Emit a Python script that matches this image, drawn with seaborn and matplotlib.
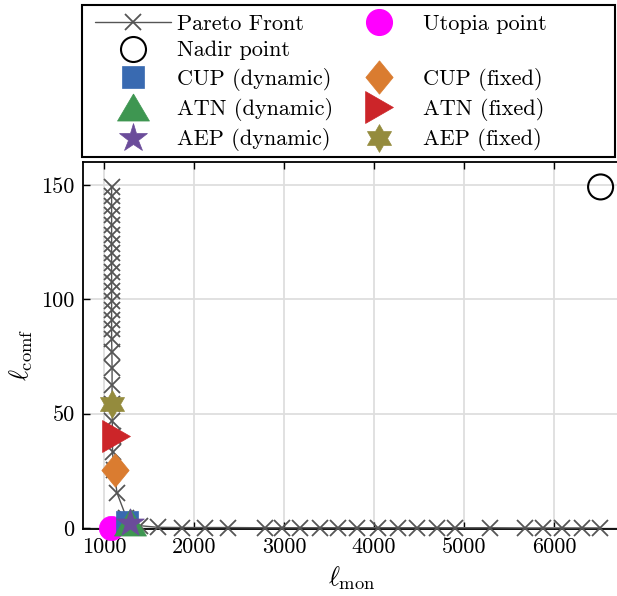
import numpy as np
import pandas as pd
import seaborn as sns
import matplotlib
matplotlib.use("Agg")
import matplotlib.pyplot as plt
from matplotlib.lines import Line2D
from matplotlib.patches import Rectangle

# ---- data -----------------------------------------------------------------
pareto_mon = [1085, 1085, 1085, 1085, 1085, 1085, 1085, 1085, 1085, 1085,
              1085, 1085, 1085, 1085, 1085, 1085, 1085, 1088, 1090, 1090,
              1090, 1092, 1095, 1095, 1110, 1145, 1250, 1400, 1600, 1867,
              2122, 2378, 2789, 2978, 3178, 3400, 3600, 3811, 4044, 4267,
              4478, 4700, 4900, 5289, 5678, 5878, 6089, 6311, 6511]
pareto_comf = [149.1, 145.0, 140.8, 136.7, 132.5, 128.3, 124.2, 120.0, 115.9, 111.7,
               107.6, 103.4, 99.3, 95.1, 91.0, 86.8, 82.6, 77.0, 70.0, 62.5,
               54.2, 46.9, 40.2, 33.4, 25.4, 15.3, 4.5, 1.0, 0.3, 0.2,
               0.2, 0.2, 0.1, 0.1, 0.1, 0.1, 0.1, 0.1, 0.1, 0.1,
               0.1, 0.1, 0.1, 0.1, 0.0, 0.0, 0.0, 0.0, 0.0]

utopia = (1075, 0.0)
nadir = (6518, 149.1)

method_names = ["CUP (dynamic)", "CUP (fixed)", "ATN (dynamic)",
                "ATN (fixed)", "AEP (dynamic)", "AEP (fixed)"]
method_mon = [1260, 1120, 1290, 1135, 1290, 1085]
method_comf = [2.6, 25.4, 2.8, 40.2, 2.0, 54.2]

x_ticks = [1000, 2000, 3000, 4000, 5000, 6000]
y_ticks = [0, 50, 100, 150]

# ---- style ----------------------------------------------------------------
sns.set_theme(style="whitegrid")
plt.rcParams.update({
    "font.family": "serif",
    "font.serif": ["cmr10"],
    "mathtext.fontset": "cm",
    "axes.formatter.use_mathtext": True,
    "axes.unicode_minus": False,
})

# custom marker shapes
tri_up = [(0, 1), (-1.18, -1), (1.18, -1), (0, 1)]
tri_right = [(1, 0), (-1, 1.15), (-1, -1.15), (1, 0)]
diamond = [(0, 1), (0.82, 0), (0, -1), (-0.82, 0), (0, 1)]
ang_out = np.deg2rad(90 + 60 * np.arange(6))
ang_in = ang_out + np.deg2rad(30)
r_in = 1 / np.sqrt(3)
hexagram = []
for ao, ai in zip(ang_out, ang_in):
    hexagram.append((np.cos(ao), np.sin(ao)))
    hexagram.append((r_in * np.cos(ai), r_in * np.sin(ai)))
hexagram.append(hexagram[0])

palette = {
    "CUP (dynamic)": ("#396AB1", "s", 16),
    "CUP (fixed)": ("#DA7C30", diamond, 24),
    "ATN (dynamic)": ("#3E9651", tri_up, 23),
    "ATN (fixed)": ("#CC2529", tri_right, 23),
    "AEP (dynamic)": ("#6B4C9A", "*", 21),
    "AEP (fixed)": ("#948B3D", hexagram, 20),
}

W, H = 617, 596
fig = plt.figure(figsize=(W / 100, H / 100), dpi=100)
ax = fig.add_axes([83 / W, 1 - 529 / H, (625 - 83) / W, (529 - 162) / H])
ax.set_facecolor("white")

line_color = "#555555"
pareto_df = pd.DataFrame({"mon": pareto_mon, "comf": pareto_comf})
sns.lineplot(data=pareto_df, x="mon", y="comf", sort=False, estimator=None,
             color=line_color, lw=1.0, marker="x", markersize=11,
             markeredgewidth=1.3, markeredgecolor=line_color,
             clip_on=False, zorder=3, legend=False, ax=ax)

sns.scatterplot(x=[utopia[0]], y=[utopia[1]], s=17.5 ** 2, color="#FF00FF",
                edgecolor="#FF00FF", linewidth=0.5, clip_on=False, zorder=4,
                legend=False, ax=ax)
ax.scatter([nadir[0]], [nadir[1]], s=18 ** 2, facecolors="none",
           edgecolors="black", linewidths=1.5, clip_on=False, zorder=4)

draw_order = ["CUP (dynamic)", "CUP (fixed)", "ATN (dynamic)",
              "ATN (fixed)", "AEP (dynamic)", "AEP (fixed)"]
for name in draw_order:
    i = method_names.index(name)
    col, mk, ms = palette[name]
    sns.scatterplot(x=[method_mon[i]], y=[method_comf[i]], s=ms ** 2,
                    marker=mk, color=col, edgecolor=col, linewidth=0.5,
                    clip_on=False, zorder=5, legend=False, ax=ax)

# ---- axes -----------------------------------------------------------------
ax.set_xlim(767, 767 + (625 - 83) / 90 * 1000)
ax.set_ylim(-0.44, 160)
ax.set_xticks(x_ticks)
ax.set_yticks(y_ticks)
ax.set_xticklabels([str(t) for t in x_ticks])
ax.set_yticklabels([str(t) for t in y_ticks])
ax.grid(True, color="#dedede", lw=1.3)
ax.set_axisbelow(True)
for side in ["left", "bottom", "top"]:
    ax.spines[side].set_visible(True)
    ax.spines[side].set_color("black")
    ax.spines[side].set_linewidth(1.3)
ax.spines["right"].set_visible(False)
ax.tick_params(axis="both", which="major", direction="in", length=5,
               width=1.0, color="black", labelsize=16, labelcolor="black",
               top=True, bottom=True, left=True, right=False)
ax.tick_params(axis="y", pad=6)
ax.tick_params(axis="x", pad=6)

ax.set_xlabel(r"$\ell_{\rm mon}$", fontsize=19, color="black")
ax.set_ylabel(r"$\ell_{\rm comf}$", fontsize=19, color="black")
ax.xaxis.set_label_coords((352 - 83) / 542, (529 - 578) / 367)
ax.yaxis.set_label_coords((21 - 83) / 542, (529 - 355) / 367)
ax.xaxis.label.set_va("center")
ax.yaxis.label.set_va("center")

# ---- legend ---------------------------------------------------------------
def mk_handle(name):
    col, mk, ms = palette[name]
    return Line2D([], [], ls="none", marker=mk, markersize=ms,
                  markerfacecolor=col, markeredgecolor=col, markeredgewidth=0.5)

h_pareto = Line2D([], [], color=line_color, lw=1.0, marker="x", markersize=11,
                  markeredgewidth=1.3)
h_nadir = Line2D([], [], ls="none", marker="o", markersize=18,
                 markerfacecolor="none", markeredgecolor="black",
                 markeredgewidth=1.5)
h_utopia = Line2D([], [], ls="none", marker="o", markersize=18.5,
                  markerfacecolor="#FF00FF", markeredgecolor="#FF00FF")
h_blank = Line2D([], [], ls="none")

handles = [h_pareto, h_nadir, mk_handle("CUP (dynamic)"),
           mk_handle("ATN (dynamic)"), mk_handle("AEP (dynamic)"),
           h_utopia, h_blank, mk_handle("CUP (fixed)"),
           mk_handle("ATN (fixed)"), mk_handle("AEP (fixed)")]
labels = ["Pareto Front", "Nadir point", "CUP (dynamic)", "ATN (dynamic)",
          "AEP (dynamic)", "Utopia point", " ", "CUP (fixed)",
          "ATN (fixed)", "AEP (fixed)"]

leg = fig.legend(handles, labels, ncol=2, loc="upper left",
                 bbox_to_anchor=(95 / W, 1 - 14 / H), frameon=False,
                 borderpad=0, borderaxespad=0, handlelength=3.4,
                 handletextpad=0.3, columnspacing=0.35, labelspacing=0.33,
                 fontsize=16)
for t in leg.get_texts():
    t.set_color("black")

fig.patches.append(Rectangle((82 / W, 1 - 157 / H), (615 - 82) / W,
                             (157 - 5) / H, transform=fig.transFigure,
                             fill=False, edgecolor="black", lw=1.5))

fig.savefig("out.png", dpi=100, facecolor="white")
